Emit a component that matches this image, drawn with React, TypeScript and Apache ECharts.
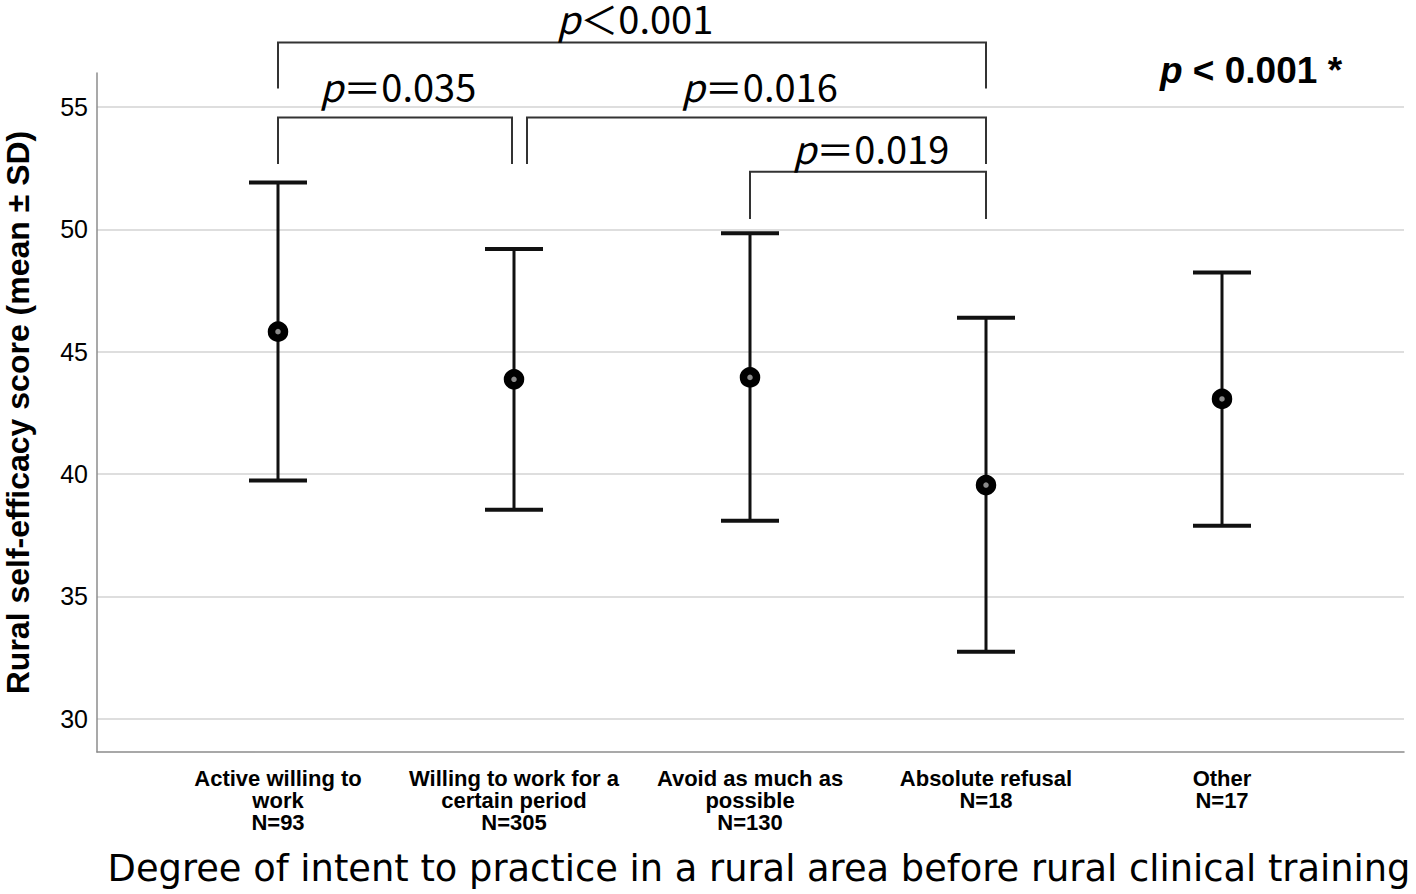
import React, { useEffect, useRef } from "react";
import * as echarts from "echarts";

// ---- data ----
const categories = [
  "Active willing to\nwork\nN=93",
  "Willing to work for a\ncertain period\nN=305",
  "Avoid as much as\npossible\nN=130",
  "Absolute refusal\nN=18",
  "Other\nN=17",
];
const means = [45.82, 43.87, 43.95, 39.55, 43.07];
const upperSD = [51.91, 49.2, 49.84, 46.39, 48.24];
const lowerSD = [39.74, 38.54, 38.09, 32.74, 37.89];
const yTicks = [30, 35, 40, 45, 50, 55];
const yMin = 28.64;
const yMax = 56.39;

// pairwise comparisons (category indices, label, bracket level, leg end, label level)
const compFrom = [0, 0, 1, 2];
const compTo = [3, 1, 3, 3];
const compLabels = ["＜0.001", "＝0.035", "＝0.016", "＝0.019"];
const compBarY = [57.64, 54.57, 54.57, 52.35];
const compLegY = [55.76, 52.67, 52.67, 50.42];
const compLabelY = [58.64, 55.86, 55.86, 53.34];
const overallLabel = " < 0.001 *";
const xTitle = "Degree of intent to practice in a rural area before rural clinical training";
const yTitle = "Rural self-efficacy score (mean ± SD)";

// small pixel nudges so adjacent brackets don't touch at a shared category
const fromShift = [0, 0, 13, 0];
const toShift = [0, -2, 0, 0];

const SANS = "'Liberation Sans', Arial, Helvetica, sans-serif";
const JP = "'Noto Sans CJK JP', 'Noto Sans', sans-serif";

export default function App() {
  const ref = useRef<HTMLDivElement>(null);
  useEffect(() => {
    document.body.style.margin = "0";
    if (!ref.current) return;
    const chart = echarts.init(ref.current, undefined, { renderer: "svg" });

    const errData = categories.map((_, i) => [i, means[i], lowerSD[i], upperSD[i]]);
    const compData = compFrom.map((f, i) => [f, compTo[i], compBarY[i], compLegY[i], compLabelY[i], i]);

    const option: any = {
      animation: false,
      backgroundColor: "#ffffff",
      grid: [
        { left: 97, right: 12, top: 73, bottom: 142, containLabel: false, outerBoundsMode: "none" },
        { left: 160, right: 76, top: 73, bottom: 142, containLabel: false, outerBoundsMode: "none" },
      ],
      xAxis: [
        {
          type: "value",
          gridIndex: 0,
          min: 0,
          max: 1,
          axisLine: { show: true, lineStyle: { color: "#8c8c8c", width: 1.5 } },
          axisTick: { show: false },
          axisLabel: { show: false },
          splitLine: { show: false },
        },
        {
          type: "category",
          gridIndex: 1,
          data: categories,
          boundaryGap: true,
          axisLine: { show: false },
          axisTick: { show: false },
          splitLine: { show: false },
          axisLabel: {
            interval: 0,
            margin: 15,
            color: "#000",
            fontFamily: SANS,
            fontWeight: "bold",
            fontSize: 22,
            lineHeight: 22,
          },
        },
      ],
      yAxis: [
        {
          type: "value",
          gridIndex: 0,
          min: yMin,
          max: yMax,
          axisLine: { show: true, lineStyle: { color: "#8c8c8c", width: 1.5 } },
          axisTick: { show: false },
          axisLabel: {
            color: "#000",
            fontFamily: SANS,
            fontSize: 25,
            margin: 9,
            showMinLabel: false,
            showMaxLabel: false,
            formatter: (v: number) => (yTicks.some((t) => Math.abs(t - v) < 1e-6) ? String(v) : ""),
          },
          splitLine: {
            show: true,
            showMinLine: false,
            showMaxLine: false,
            lineStyle: { color: "#d3d3d3", width: 1.5 },
          },
          name: yTitle,
          nameLocation: "middle",
          nameRotate: 90,
          nameGap: 63,
          nameTextStyle: { color: "#000", fontFamily: SANS, fontWeight: "bold", fontSize: 32 },
        },
        {
          type: "value",
          gridIndex: 1,
          min: yMin,
          max: yMax,
          show: false,
        },
      ],
      series: [
        {
          type: "custom",
          xAxisIndex: 1,
          yAxisIndex: 1,
          data: errData,
          encode: { x: 0, y: [1, 2, 3] },
          renderItem: (params: any, api: any) => {
            const x = api.value(0);
            const pm = api.coord([x, api.value(1)]);
            const pl = api.coord([x, api.value(2)]);
            const pu = api.coord([x, api.value(3)]);
            const hw = 29;
            return {
              type: "group",
              children: [
                { type: "line", shape: { x1: pu[0], y1: pu[1], x2: pl[0], y2: pl[1] }, style: { stroke: "#111", lineWidth: 3 } },
                { type: "line", shape: { x1: pu[0] - hw, y1: pu[1], x2: pu[0] + hw, y2: pu[1] }, style: { stroke: "#111", lineWidth: 4 } },
                { type: "line", shape: { x1: pl[0] - hw, y1: pl[1], x2: pl[0] + hw, y2: pl[1] }, style: { stroke: "#111", lineWidth: 4 } },
                { type: "circle", shape: { cx: pm[0], cy: pm[1], r: 6.5 }, style: { fill: "#8a8a8a", stroke: "#000", lineWidth: 7.5 } },
              ],
            };
          },
          z: 5,
        },
        {
          type: "custom",
          xAxisIndex: 1,
          yAxisIndex: 1,
          data: compData,
          clip: false,
          encode: { x: [0, 1], y: [2, 3] },
          renderItem: (params: any, api: any) => {
            const i = api.value(5);
            const a = api.coord([api.value(0), api.value(2)]);
            const b = api.coord([api.value(1), api.value(2)]);
            const leg = api.coord([api.value(0), api.value(3)]);
            const lab = api.coord([(api.value(0) + api.value(1)) / 2, api.value(4)]);
            const x1 = a[0] + fromShift[i];
            const x2 = b[0] + toShift[i];
            return {
              type: "group",
              children: [
                {
                  type: "polyline",
                  shape: { points: [[x1, leg[1]], [x1, a[1]], [x2, a[1]], [x2, leg[1]]] },
                  style: { stroke: "#333", lineWidth: 2, fill: "none" },
                },
                {
                  type: "text",
                  x: (x1 + x2) / 2 + 3,
                  y: lab[1],
                  style: {
                    text: "{i|p}{n|" + compLabels[i] + "}",
                    align: "center",
                    verticalAlign: "middle",
                    rich: {
                      i: { fontFamily: JP, fontStyle: "italic", fontSize: 38, lineHeight: 36, fill: "#000" },
                      n: { fontFamily: JP, fontSize: 38, lineHeight: 36, fill: "#000" },
                    },
                  },
                },
              ],
            };
          },
        },
      ],
      graphic: [
        {
          type: "text",
          left: 1160,
          top: 52,
          style: {
            text: "{i|p}{n|" + overallLabel + "}",
            rich: {
              i: { fontFamily: SANS, fontStyle: "italic", fontWeight: "bold", fontSize: 37, fill: "#000" },
              n: { fontFamily: SANS, fontWeight: "bold", fontSize: 37, fill: "#000" },
            },
          },
        },
        {
          type: "text",
          x: 759,
          y: 868,
          style: {
            text: xTitle,
            align: "center",
            verticalAlign: "middle",
            fontFamily: "'DejaVu Sans', 'Noto Sans', sans-serif",
            fontSize: 36.8,
            fill: "#000",
          },
        },
      ],
    };
    chart.setOption(option);
    return () => chart.dispose();
  }, []);
  return (
    <div
      ref={ref}
      style={{ position: "absolute", left: 0, top: 0, width: 1416, height: 894, background: "#fff" }}
    />
  );
}
